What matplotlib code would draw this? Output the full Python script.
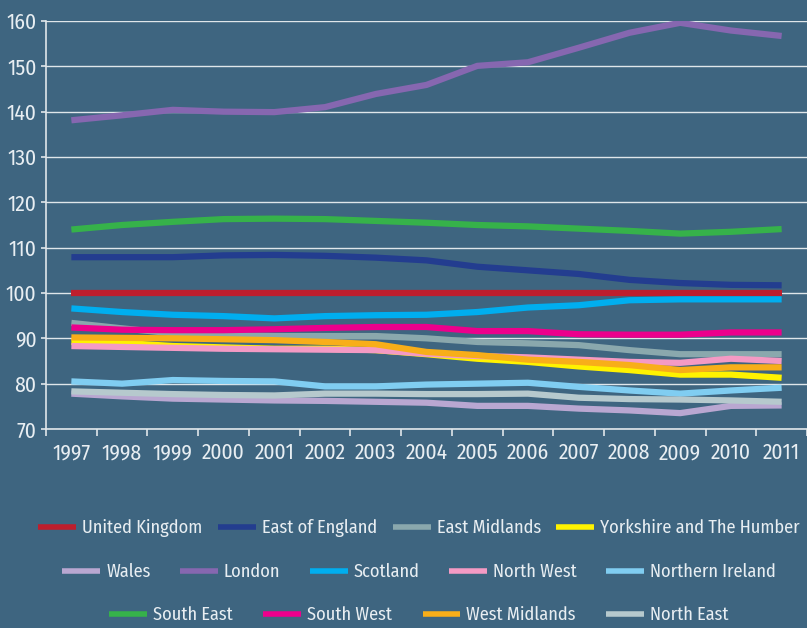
import numpy as np
import matplotlib
matplotlib.use('Agg')
import matplotlib.pyplot as plt
from matplotlib.lines import Line2D

plt.rcParams['font.family'] = ['Fira Sans Condensed', 'Liberation Sans', 'DejaVu Sans']

years = list(range(1997, 2012))

# index values (UK = 100)
uk = [100] * 15
east_of_england = [107.9, 107.9, 107.9, 108.3, 108.4, 108.2, 107.8, 107.2, 105.8, 105.0, 104.2, 102.9, 102.2, 101.8, 101.7]
east_midlands = [93.4, 92.2, 91.1, 90.7, 90.5, 90.5, 90.5, 90.0, 89.2, 88.9, 88.5, 87.4, 86.5, 86.5, 86.5]
yorkshire = [89.2, 89.0, 88.3, 88.0, 87.7, 87.7, 87.4, 86.5, 85.5, 84.8, 83.8, 83.0, 82.0, 82.0, 81.3]
wales = [77.8, 77.2, 76.7, 76.5, 76.3, 76.2, 76.0, 75.8, 75.1, 75.1, 74.5, 74.1, 73.5, 75.1, 75.2]
london = [138.1, 139.2, 140.4, 140.0, 139.9, 141.0, 143.9, 145.9, 150.1, 150.9, 154.1, 157.4, 159.6, 157.9, 156.7]
scotland = [96.6, 95.8, 95.2, 94.9, 94.4, 94.9, 95.1, 95.2, 95.8, 96.8, 97.3, 98.4, 98.6, 98.6, 98.6]
north_west = [88.3, 88.1, 87.9, 87.7, 87.6, 87.5, 87.4, 86.6, 86.1, 85.8, 85.3, 84.8, 84.6, 85.5, 85.0]
northern_ireland = [80.5, 80.0, 80.8, 80.6, 80.5, 79.4, 79.4, 79.8, 80.0, 80.2, 79.3, 78.5, 77.8, 78.5, 79.1]
south_east = [114.0, 115.0, 115.7, 116.3, 116.4, 116.3, 115.9, 115.5, 115.0, 114.7, 114.2, 113.7, 113.1, 113.5, 114.1]
south_west = [92.4, 91.9, 91.8, 91.8, 92.0, 92.3, 92.5, 92.5, 91.6, 91.6, 90.9, 90.8, 90.8, 91.3, 91.3]
west_midlands = [90.2, 90.1, 90.0, 89.8, 89.6, 89.2, 88.7, 87.0, 86.3, 85.3, 84.8, 84.1, 83.0, 83.6, 83.6]
north_east = [78.3, 78.0, 77.7, 77.5, 77.4, 77.8, 77.8, 77.7, 77.7, 77.8, 76.9, 76.6, 76.5, 76.3, 76.0]

series = [
    ('United Kingdom', uk, '#be1e2d'),
    ('East of England', east_of_england, '#233d8f'),
    ('East Midlands', east_midlands, '#8aa8ad'),
    ('Yorkshire and The Humber', yorkshire, '#fff200'),
    ('Wales', wales, '#b9a7d1'),
    ('London', london, '#8667b0'),
    ('Scotland', scotland, '#00aeef'),
    ('North West', north_west, '#f49ac4'),
    ('Northern Ireland', northern_ireland, '#80cdf1'),
    ('South East', south_east, '#36b24a'),
    ('South West', south_west, '#ec008c'),
    ('West Midlands', west_midlands, '#f8ae19'),
    ('North East', north_east, '#b6c9cd'),
]

bg = '#3e6580'
fg = '#e8eef2'
W, H = 807, 628

fig = plt.figure(figsize=(W / 100, H / 100), dpi=100, facecolor=bg)
ax = fig.add_axes([46 / W, 1 - 429 / H, (W - 46) / W, (429 - 21) / H])
ax.set_facecolor(bg)

for name, vals, col in series:
    ax.plot(years, vals, color=col, lw=4.5, solid_capstyle='butt',
            solid_joinstyle='round', label=name, zorder=3)

ax.set_xlim(1996.5, 1996.5 + (W - 46) / 51.1)
ax.set_ylim(70, 160)
ax.set_yticks(range(70, 161, 10))
ax.yaxis.grid(True, color='#dfe6ea', lw=1.0)
ax.set_axisbelow(True)

ax.set_xticks(years)
ax.set_xticks(np.arange(1996.5, 2012, 1.0), minor=True)
ax.tick_params(axis='x', which='major', length=0, pad=9.5, labelsize=15.5, labelcolor=fg)
ax.tick_params(axis='x', which='minor', length=5, width=1.2, color='#dfe6ea')
ax.tick_params(axis='y', length=3.3, width=1.2, color='#dfe6ea', pad=3.5,
               labelsize=15.5, labelcolor=fg)

for s in ['top', 'right']:
    ax.spines[s].set_visible(False)
for s in ['left', 'bottom']:
    ax.spines[s].set_color('#dfe6ea')
    ax.spines[s].set_linewidth(1.2)

# legend in three centred rows
rows = [
    (series[0:4], 528, 0.85),
    (series[4:9], 572, 1.6),
    (series[9:13], 615, 1.65),
]
for items, ypx, spacing in rows:
    handles = [Line2D([], [], color=c, lw=4.0, solid_capstyle='butt') for _, _, c in items]
    labels = [n for n, _, _ in items]
    leg = fig.legend(handles, labels, loc='center', bbox_to_anchor=(419 / W, 1 - ypx / H),
                     ncol=len(items), frameon=False, fontsize=13.2, handlelength=2.07,
                     handletextpad=0.33, columnspacing=spacing, borderaxespad=0,
                     borderpad=0)
    for t in leg.get_texts():
        t.set_color(fg)

fig.savefig('out.png', dpi=100, facecolor=bg)
